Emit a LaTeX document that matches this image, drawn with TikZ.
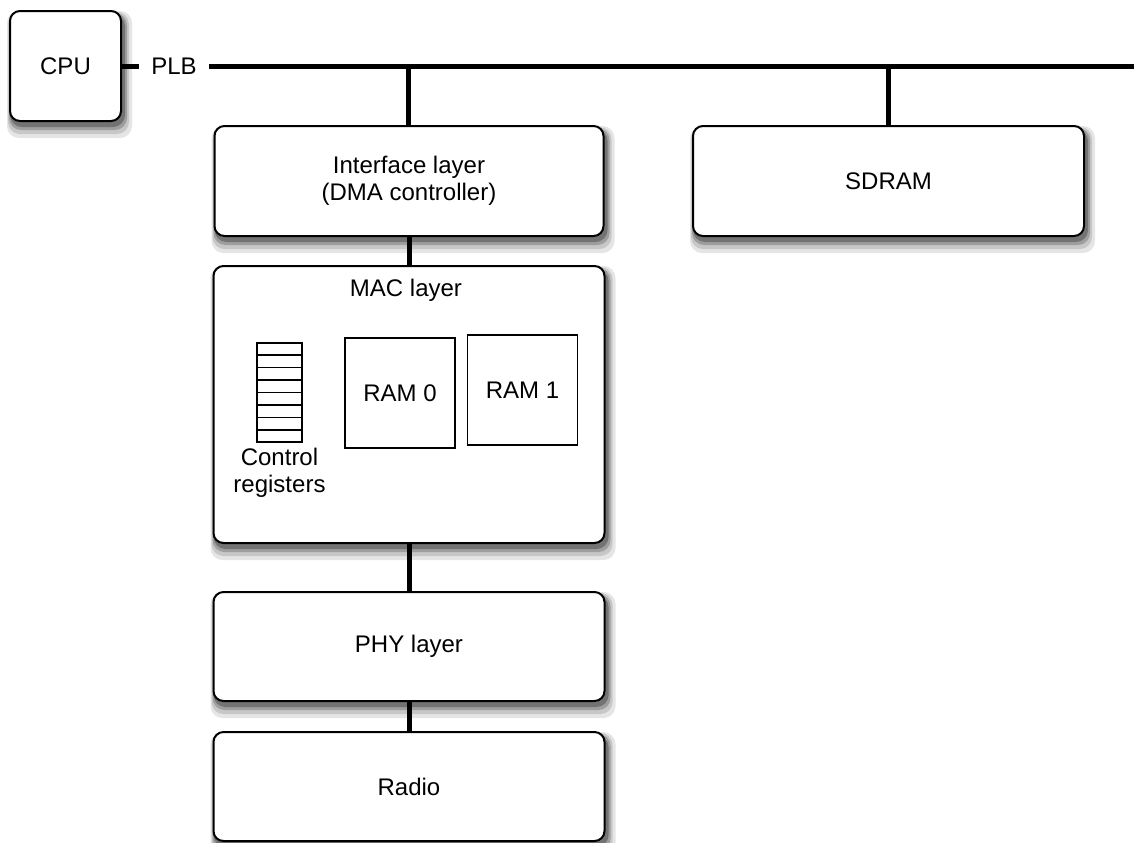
\documentclass[tikz,border=0pt]{standalone}
\usepackage{fontspec}
\setmainfont{Liberation Sans}
\usetikzlibrary{calc, backgrounds}

\begin{document}
\begin{tikzpicture}[x=0.5pt, y=-0.5pt, font=\fontsize{12}{13.5}\selectfont, align=center]
    \tikzstyle{block} = [rectangle, draw, line width=1pt, rounded corners=5pt, fill=white]
    \tikzstyle{ram} = [rectangle, draw, line width=0.7pt, minimum width=55pt, minimum height=55pt]
    \tikzstyle{bus} = [line width=2.5pt]
    \tikzstyle{shadowfill} = [rounded corners=6pt]

    \useasboundingbox (0,0) rectangle (1134,842);

    \node (cpu) at (65.5, 66) [block, minimum width=55.5pt, minimum height=55pt] {CPU};
    \node (plb) at (174, 66) [inner sep=6pt] {PLB};
    \coordinate (busend) at (1134, 66);

    \node (ifc) at (409, 181) [block, minimum width=194.5pt, minimum height=55pt] {Interface layer \\ (DMA controller)};
    \node (sdram) at (888.5, 181) [block, minimum width=195.5pt, minimum height=55pt] {SDRAM};

    \node (mac) at (409, 404.5) [block, minimum width=195.5pt, minimum height=138.5pt] {};
    \node (mactitle) at (406, 290) {MAC layer};

    \node (reg) at (279.5, 392.5) [rectangle, draw, line width=0.7pt, minimum width=22.5pt, minimum height=49.5pt] {};
    \node (reglbl) at (279.5, 473) {Control \\ registers};
    \node (ram0) at (400, 393) [ram] {RAM 0};
    \node (ram1) at (522.5, 390) [ram] {RAM 1};

    \node (phy) at (409, 646.5) [block, minimum width=195.5pt, minimum height=54.5pt] {PHY layer};
    \node (radio) at (409, 786.5) [block, minimum width=195.5pt, minimum height=54.5pt] {Radio};

    \foreach \k in {1,...,7}
        \draw [line width=0.7pt] ($(reg.north west)!\k/8!(reg.south west)$) -- ($(reg.north east)!\k/8!(reg.south east)$);

    % soft shadows under the blocks
    \begin{scope}[on background layer]
        \foreach \n in {cpu, ifc, sdram, mac, phy, radio} {
            \fill [shadowfill, black!10] ($(\n.south west)+(-2,16)$) rectangle ($(\n.north east)+(10,1)$);
            \fill [shadowfill, black!22] ($(\n.south west)+(-1,12)$) rectangle ($(\n.north east)+(7,2)$);
            \fill [shadowfill, black!38] ($(\n.south west)+(0,8)$) rectangle ($(\n.north east)+(5,3)$);
            \fill [shadowfill, black!55] ($(\n.south west)+(1,5)$) rectangle ($(\n.north east)+(3,4)$);
        }
    \end{scope}

    \coordinate (tapa) at (408, 66);
    \coordinate (tapb) at (888, 66);

    \draw [bus] (cpu.east) -- (plb.west);
    \draw [bus] (plb.east) -- (busend);
    \draw [bus] (tapa) -- (tapa |- ifc.north);
    \draw [bus] (tapb) -- (tapb |- sdram.north);

    \draw [bus] (ifc) -- (mac);
    \draw [bus] (mac) -- (phy);
    \draw [bus] (phy) -- (radio);
\end{tikzpicture}
\end{document}
